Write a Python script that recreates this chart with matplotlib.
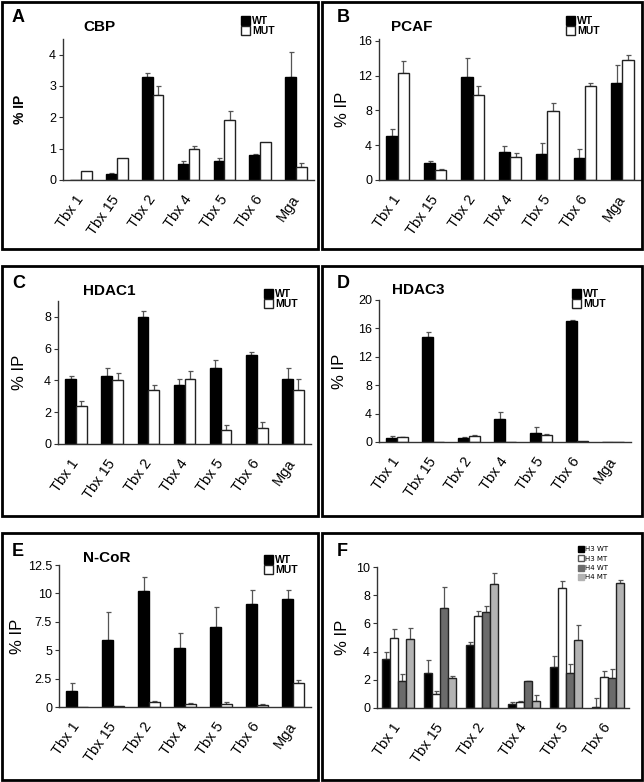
import matplotlib
matplotlib.use("Agg")
import matplotlib.pyplot as plt
import numpy as np
from matplotlib.patches import Rectangle, Patch

plt.rcParams['font.family'] = ['Liberation Sans', 'DejaVu Sans']

W, H = 644, 782
fig = plt.figure(figsize=(W / 100, H / 100), dpi=100)

genes7 = ["Tbx 1", "Tbx 15", "Tbx 2", "Tbx 4", "Tbx 5", "Tbx 6", "Mga"]
genes6 = ["Tbx 1", "Tbx 15", "Tbx 2", "Tbx 4", "Tbx 5", "Tbx 6"]

# Panel A: CBP
cbp_wt = [0.0, 0.2, 3.3, 0.5, 0.6, 0.8, 3.3]
cbp_wt_err = [0.0, 0.02, 0.1, 0.1, 0.1, 0.02, 0.8]
cbp_mut = [0.3, 0.7, 2.7, 1.0, 1.9, 1.2, 0.4]
cbp_mut_err = [0.0, 0.0, 0.3, 0.1, 0.3, 0.0, 0.15]

# Panel B: PCAF
pcaf_wt = [5.0, 2.0, 11.8, 3.2, 3.0, 2.5, 11.2]
pcaf_wt_err = [0.9, 0.2, 2.2, 0.7, 1.2, 1.1, 2.0]
pcaf_mut = [12.3, 1.1, 9.8, 2.6, 7.9, 10.8, 13.8]
pcaf_mut_err = [1.4, 0.2, 1.0, 0.5, 1.0, 0.4, 0.6]

# Panel C: HDAC1
hdac1_wt = [4.1, 4.3, 8.0, 3.7, 4.8, 5.6, 4.1]
hdac1_wt_err = [0.2, 0.5, 0.4, 0.4, 0.5, 0.2, 0.7]
hdac1_mut = [2.4, 4.0, 3.4, 4.1, 0.9, 1.0, 3.4]
hdac1_mut_err = [0.3, 0.5, 0.3, 0.5, 0.3, 0.4, 0.7]

# Panel D: HDAC3
hdac3_wt = [0.6, 14.8, 0.6, 3.2, 1.3, 17.1, 0.0]
hdac3_wt_err = [0.25, 0.7, 0.15, 1.0, 0.8, 0.1, 0.0]
hdac3_mut = [0.7, 0.0, 0.9, 0.0, 1.0, 0.1, 0.0]
hdac3_mut_err = [0.05, 0.0, 0.05, 0.0, 0.1, 0.0, 0.0]

# Panel E: N-CoR
ncor_wt = [1.4, 5.9, 10.2, 5.2, 7.0, 9.1, 9.5]
ncor_wt_err = [0.7, 2.5, 1.2, 1.3, 1.8, 1.2, 0.8]
ncor_mut = [0.0, 0.1, 0.45, 0.3, 0.3, 0.2, 2.1]
ncor_mut_err = [0.0, 0.0, 0.05, 0.03, 0.1, 0.03, 0.3]

# Panel F: histone acetylation
h3_wt = [3.5, 2.5, 4.5, 0.3, 2.9, 0.1]
h3_wt_err = [0.5, 0.9, 0.2, 0.15, 0.8, 0.6]
h3_mt = [5.0, 1.0, 6.5, 0.45, 8.5, 2.2]
h3_mt_err = [0.6, 0.2, 0.4, 0.05, 0.5, 0.4]
h4_wt = [1.9, 7.1, 6.8, 1.9, 2.5, 2.1]
h4_wt_err = [0.5, 1.5, 0.4, 0.05, 0.6, 0.7]
h4_mt = [4.9, 2.1, 8.8, 0.5, 4.8, 8.9]
h4_mt_err = [0.8, 0.15, 0.8, 0.4, 1.1, 0.2]


def fx(x):
    return x / W


def fy(y):
    return 1 - y / H


def make_ax(x0, y0, x1, y1):
    ax = fig.add_axes([fx(x0), fy(y1), (x1 - x0) / W, (y1 - y0) / H])
    for s in ['top', 'right']:
        ax.spines[s].set_visible(False)
    for s in ['left', 'bottom']:
        ax.spines[s].set_color('#333333')
        ax.spines[s].set_linewidth(1.0)
    ax.tick_params(axis='y', direction='out', length=3, width=0.8,
                   color='#333333', labelsize=9, pad=2)
    ax.tick_params(axis='x', length=0, labelsize=10.5, pad=12)
    return ax


def bars(ax, x, vals, errs, color, edge):
    vals = np.asarray(vals, float)
    errs = np.asarray(errs, float)
    ax.bar(x, vals, width=barw, color=color, edgecolor=edge, linewidth=1.0,
           align='edge', zorder=2)
    m = errs > 0
    if m.any():
        xc = np.asarray(x)[m] + barw / 2
        ax.errorbar(xc, vals[m], yerr=[np.zeros(m.sum()), errs[m]], fmt='none',
                    ecolor='#555555', elinewidth=0.9, capsize=1.8,
                    capthick=0.9, zorder=1)


def set_xlabels(ax, labels):
    ax.set_xticks(np.arange(len(labels)))
    ax.set_xticklabels(labels, rotation=55, ha='right', rotation_mode='anchor',
                       va='center')
    ax.set_xlim(-0.5, len(labels) - 0.5)


def pair_panel(box, wt, wte, mut, mute, ylim, yticks, yticklabels, title,
               letter, title_xy, letter_xy, leg_xy, ylab_x, ylab_bold=False):
    ax = make_ax(*box)
    x = np.arange(len(wt))
    global barw
    barw = 0.3
    bars(ax, x - barw, wt, wte, 'black', 'black')
    bars(ax, x, mut, mute, 'white', '#222222')
    set_xlabels(ax, genes7)
    ax.set_ylim(*ylim)
    ax.set_yticks(yticks)
    ax.set_yticklabels(yticklabels)
    ax.set_ylabel('% IP', fontsize=10 if ylab_bold else 12,
                  fontweight='bold' if ylab_bold else 'normal')
    ax.yaxis.set_label_coords((ylab_x - box[0]) / (box[2] - box[0]), 0.5)
    fig.text(fx(title_xy[0]), fy(title_xy[1]), title, fontsize=11,
             fontweight='bold', ha='left', va='center')
    fig.text(fx(letter_xy[0]), fy(letter_xy[1]), letter, fontsize=13,
             fontweight='bold', ha='left', va='center')
    handles = [Patch(facecolor='black', edgecolor='black', label='WT'),
               Patch(facecolor='white', edgecolor='#222222', label='MUT')]
    fig.legend(handles=handles, loc='upper left',
               bbox_to_anchor=(fx(leg_xy[0]), fy(leg_xy[1])), frameon=False,
               handlelength=0.9, handleheight=0.9, handletextpad=0.15,
               labelspacing=0.0, borderpad=0, borderaxespad=0,
               prop={'size': 7.5, 'weight': 'bold'})
    return ax


barw = 0.3

# Panel borders
for (x0, y0, x1, y1) in [(2, 2, 318, 249), (322, 2, 642, 249),
                         (2, 266, 318, 516), (322, 266, 642, 516),
                         (2, 533, 318, 780), (322, 533, 642, 780)]:
    fig.add_artist(Rectangle((fx(x0), fy(y1)), (x1 - x0) / W, (y1 - y0) / H,
                             transform=fig.transFigure, fill=False,
                             edgecolor='black', linewidth=2.0))

pair_panel((63, 39, 314, 180), cbp_wt, cbp_wt_err, cbp_mut, cbp_mut_err,
           (0, 4.5), [0, 1, 2, 3, 4], ['0', '1', '2', '3', '4'], 'CBP', 'A',
           (83, 27), (12, 18), (241, 16), 27, ylab_bold=True)

pair_panel((379, 39, 641, 180), pcaf_wt, pcaf_wt_err, pcaf_mut, pcaf_mut_err,
           (0, 16.2), [0, 4, 8, 12, 16], ['0', '4', '8', '12', '16'], 'PCAF', 'B',
           (391, 27), (337, 18), (566, 16), 350)

pair_panel((58, 301, 311, 444), hdac1_wt, hdac1_wt_err, hdac1_mut,
           hdac1_mut_err, (0, 9), [0, 2, 4, 6, 8], ['0', '2', '4', '6', '8'],
           'HDAC1', 'C', (83, 291), (12, 283), (264, 289), 27)

pair_panel((379, 300, 631, 442), hdac3_wt, hdac3_wt_err, hdac3_mut,
           hdac3_mut_err, (0, 20), [0, 4, 8, 12, 16, 20],
           ['0', '4', '8', '12', '16', '20'], 'HDAC3', 'D', (392, 290),
           (337, 283), (572, 289), 347)

pair_panel((59, 565, 311, 707), ncor_wt, ncor_wt_err, ncor_mut, ncor_mut_err,
           (0, 12.5), [0, 2.5, 5, 7.5, 10, 12.5],
           ['0', '2.5', '5', '7.5', '10', '12.5'], 'N-CoR', 'E', (83, 558),
           (12, 551), (264, 555), 25)

# Panel F
box = (377, 567, 629, 708)
ax = make_ax(*box)
x = np.arange(len(genes6))
barw = 0.19
series = [(h3_wt, h3_wt_err, 'black', 'H3 WT'),
          (h3_mt, h3_mt_err, 'white', 'H3 MT'),
          (h4_wt, h4_wt_err, '#6b6b6b', 'H4 WT'),
          (h4_mt, h4_mt_err, '#b3b3b3', 'H4 MT')]
for i, (v, e, c, lab) in enumerate(series):
    bars(ax, x - 2 * barw + i * barw, v, e, c, '#222222')
set_xlabels(ax, genes6)
ax.set_ylim(0, 10)
ax.set_yticks([0, 2, 4, 6, 8, 10])
ax.set_yticklabels(['0', '2', '4', '6', '8', '10'])
ax.set_ylabel('% IP', fontsize=12)
ax.yaxis.set_label_coords((350 - box[0]) / (box[2] - box[0]), 0.5)
fig.text(fx(337), fy(551), 'F', fontsize=13, fontweight='bold', ha='left',
         va='center')
handles = [Patch(facecolor=c, edgecolor='#555555' if c == 'white' else c,
                 label=lab) for (_, _, c, lab) in series]
fig.legend(handles=handles, loc='upper left',
           bbox_to_anchor=(fx(578), fy(546)), frameon=False,
           handlelength=0.8, handleheight=0.9, handletextpad=0.2,
           labelspacing=0.45, borderpad=0, borderaxespad=0,
           prop={'size': 5, 'family': 'DejaVu Sans'})

fig.savefig('out.png', dpi=100)
